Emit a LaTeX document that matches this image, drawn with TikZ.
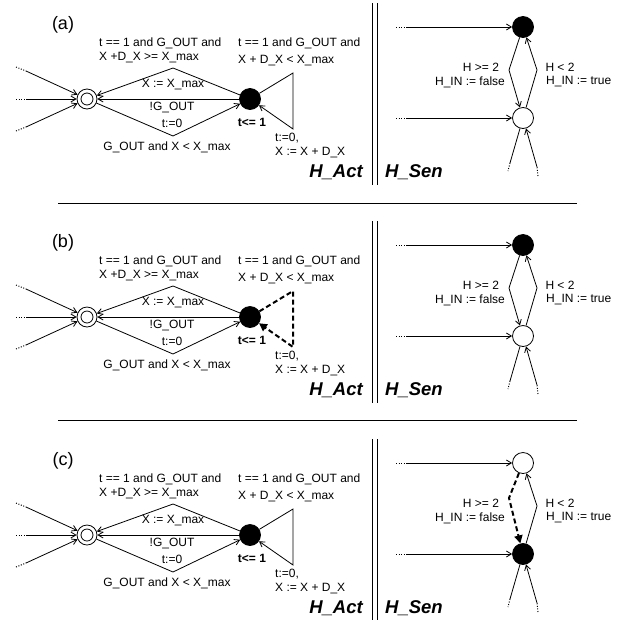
\documentclass[tikz,border=0pt]{standalone}
\usepackage{fontspec}
\setmainfont{Liberation Sans}
\usetikzlibrary{arrows.meta,positioning}

\tikzset{
  loc/.style={circle,draw,line width=0.8pt,minimum size=21pt,inner sep=0pt},
  ini/.style={loc,minimum size=20pt,path picture={\draw[line width=0.8pt] (path picture bounding box.center) circle (6pt);}},
  lbl/.style={inner sep=0pt,font=\fontsize{12}{14}\selectfont},
  big/.style={inner sep=0pt,font=\fontsize{18}{20}\selectfont},
  tr/.style={line width=0.8pt,-{Straight Barb[length=5pt,width=6pt]}},
  trhot/.style={line width=2pt,dash pattern=on 5pt off 3pt,-{Triangle[length=8pt,width=8pt]}},
  dots/.style={line width=1pt,dash pattern=on 1pt off 1.6pt},
}

\begin{document}
\begin{tikzpicture}[x=1pt,y=-1pt]
  \useasboundingbox (0,0) rectangle (628,619);
  \newcommand{\hpanel}[6]{
  \node[big] (#1tag) at (63,25) {(#1)};
  \node[ini] (#1ini) at (87,99) {};
  \node[loc,fill=black] (#1act) at (250,99) {};
  \coordinate (#1up) at (173,68);
  \coordinate (#1dn) at (173,136);
  \coordinate (#1lt) at (293,73);
  \coordinate (#1lb) at (293,129);
  \coordinate (#1p1) at (16,67);
  \coordinate (#1q1) at (26,71);
  \coordinate (#1p2) at (16,99);
  \coordinate (#1q2) at (26,99);
  \coordinate (#1p3) at (16,131);
  \coordinate (#1q3) at (26,127);
  \draw[dots] (#1p1) -- (#1q1);
  \draw[dots] (#1p2) -- (#1q2);
  \draw[dots] (#1p3) -- (#1q3);
  \draw[tr] (#1q1) -- (#1ini);
  \draw[tr] (#1q2) -- (#1ini);
  \draw[tr] (#1q3) -- (#1ini);
  \draw[tr] (#1act) -- (#1up) -- (#1ini);
  \draw[tr] (#1act) -- (#1ini);
  \draw[tr] (#1ini) -- (#1dn) -- (#1act);
  \draw[#2] (#1act) -- (#1lt) -- (#1lb) -- (#1act);
  \node[lbl,align=left,anchor=west] (#1gdA) at (99,50) {t == 1 and G\_OUT and\\X +D\_X >= X\_max};
  \node[lbl] (#1upd) at (173,85) {X := X\_max};
  \node[lbl] (#1gout) at (172,107) {!G\_OUT};
  \node[lbl] (#1rst) at (172,123) {t:=0};
  \node[lbl] (#1gdB) at (167,147) {G\_OUT and X < X\_max};
  \node[lbl,align=left,anchor=west] (#1gdC) at (238,52) {t == 1 and G\_OUT and\\[3pt]X + D\_X < X\_max};
  \node[lbl,font=\fontsize{12}{14}\selectfont\bfseries] (#1inv) at (252,122) {t<= 1};
  \node[lbl,align=left,anchor=west] (#1upC) at (275,145) {t:=0,\\X := X + D\_X};
  \node[big,anchor=east,font=\fontsize{18.5}{20}\selectfont\bfseries\itshape] (#1nmA) at (363,172) {H\_Act};
  \node[big,anchor=west,font=\fontsize{18.5}{20}\selectfont\bfseries\itshape] (#1nmS) at (385,172) {H\_Sen};
  \draw[line width=1pt] (372,3) -- (372,185);
  \draw[line width=1pt] (377,3) -- (377,185);
  \node[loc,fill=#4] (#1st) at (523,27) {};
  \node[loc,fill=#5] (#1sb) at (523,118) {};
  \coordinate (#1i1) at (396,27);
  \coordinate (#1j1) at (406,27);
  \coordinate (#1i2) at (396,118);
  \coordinate (#1j2) at (406,118);
  \draw[dots] (#1i1) -- (#1j1);
  \draw[dots] (#1i2) -- (#1j2);
  \draw[tr] (#1j1) -- (#1st);
  \draw[tr] (#1j2) -- (#1sb);
  \coordinate (#1sl) at (509,#6);
  \coordinate (#1sr) at (537,70);
  \draw[#3] (#1st) -- (#1sl) -- (#1sb);
  \draw[tr] (#1sb) -- (#1sr) -- (#1st);
  \coordinate (#1o1) at (510,163);
  \coordinate (#1o2) at (508,171);
  \coordinate (#1o3) at (538,176);
  \coordinate (#1o4) at (537,167);
  \draw[line width=0.8pt] (#1sb) -- (#1o1);
  \draw[dots] (#1o1) -- (#1o2);
  \draw[dots] (#1o3) -- (#1o4);
  \draw[tr] (#1o4) -- (#1sb);
  \node[lbl] (#1gdS) at (481,67) {H >= 2};
  \node[lbl] (#1asS) at (470,82) {H\_IN := false};
  \node[lbl] (#1gdT) at (560,67) {H < 2};
  \node[lbl,anchor=west] (#1asT) at (546,82) {H\_IN := true};
  }
  \begin{scope}
    \hpanel{a}{tr}{tr}{black}{white}{70}
  \end{scope}
  \begin{scope}[yshift=-218pt]
    \hpanel{b}{trhot}{tr}{black}{white}{70}
  \end{scope}
  \begin{scope}[yshift=-436pt]
    \hpanel{c}{tr}{trhot}{white}{black}{62}
  \end{scope}
  \draw[line width=1pt] (58,203) -- (577,203);
  \draw[line width=1pt] (58,420) -- (577,420);
\end{tikzpicture}
\end{document}
